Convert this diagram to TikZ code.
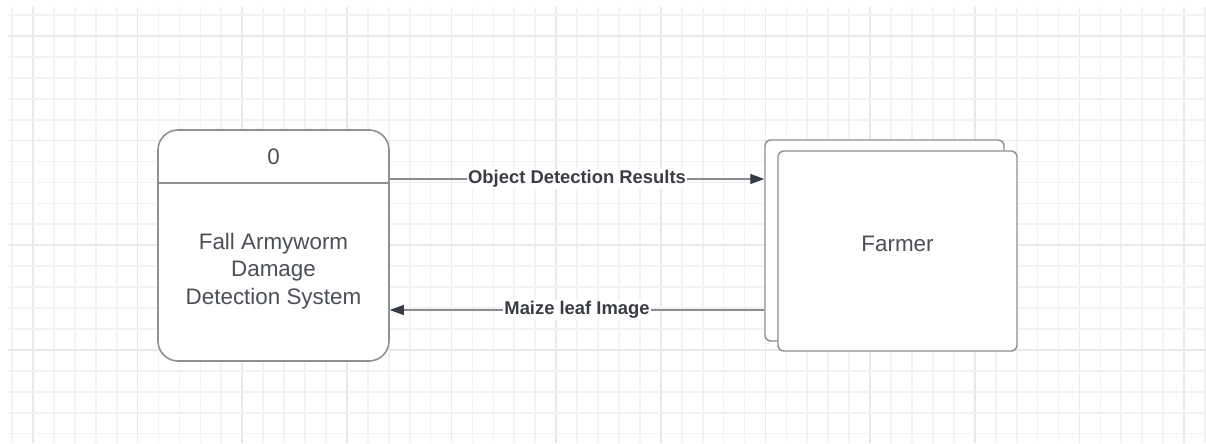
\documentclass[tikz,border=0pt]{standalone}
\usepackage{fontspec}
\setmainfont{Liberation Sans}
\usetikzlibrary{arrows.meta,calc}
\definecolor{gridminor}{HTML}{F2F2F2}
\definecolor{gridmajor}{HTML}{E9E9E9}
\definecolor{edge}{HTML}{8E9096}
\definecolor{flowline}{HTML}{8A8C92}
\definecolor{tip}{HTML}{333A45}
\definecolor{txt}{HTML}{4B4F56}
\definecolor{lbl}{HTML}{3A3D44}
\begin{document}
\begin{tikzpicture}[x=0.75pt,y=-0.75pt,
  process/.style={draw=edge,line width=1.2pt,fill=white,rounded corners=15pt,
    minimum width=173.25pt,minimum height=173.25pt,inner sep=0pt},
  entity/.style={draw=edge,line width=1.1pt,fill=white,rounded corners=4.5pt,
    minimum width=179.25pt,inner sep=0pt},
  maintext/.style={text=txt,font=\fontsize{16.8pt}{20.5pt}\selectfont,align=center},
  flow/.style={draw=flowline,line width=0.9pt,-{Triangle[length=10.5pt,width=7.5pt,fill=tip,color=tip]}},
  flowlabel/.style={fill=white,inner sep=1pt,text=lbl,font=\bfseries\fontsize{13.8pt}{16pt}\selectfont}]
  % canvas and background grid
  \useasboundingbox (0,0) rectangle (1206,443);
  \fill[white] (0,0) rectangle (1206,443);
  \foreach \k in {0,...,57}{
    \pgfmathsetmacro{\gx}{12+20.93*\k}
    \pgfmathtruncatemacro{\m}{mod(\k,5)}
    \ifnum\m=1
      \draw[gridmajor,line width=1.3pt] (\gx,7) -- (\gx,443);
    \else
      \draw[gridminor,line width=1.3pt] (\gx,7) -- (\gx,443);
    \fi}
  \foreach \k in {0,...,20}{
    \pgfmathsetmacro{\gy}{15+20.93*\k}
    \pgfmathtruncatemacro{\m}{mod(\k,5)}
    \ifnum\m=1
      \draw[gridmajor,line width=1.3pt] (8,\gy) -- (1206,\gy);
    \else
      \draw[gridminor,line width=1.3pt] (8,\gy) -- (1206,\gy);
    \fi}

  % process 0
  \node[process] (sys) at (273.5,245.5) {};
  \draw[edge,line width=1.2pt] ($(sys.north west)+(0,54)$) -- ($(sys.north east)+(0,54)$);
  \node[maintext] (sysid) at (273.5,157) {0};
  \node[maintext] (sysname) at (273.5,271) {Fall Armyworm\\Damage\\Detection System};

  % external entity (stacked)
  \node[entity,minimum height=150.75pt] (farmerback) at (884.5,240.5) {};
  \node[entity,minimum height=150pt] (farmer) at (897.5,251) {};
  \node[maintext] (farmername) at (897.5,244) {Farmer};

  % data flows
  \coordinate (outrow) at (0,179);
  \coordinate (inrow) at (0,310);
  \draw[flow] (sys.east |- outrow) -- node[flowlabel] (outlbl) {Object Detection Results} (farmerback.west |- outrow);
  \draw[flow] (farmerback.west |- inrow) -- node[flowlabel] (inlbl) {Maize leaf Image} (sys.east |- inrow);
\end{tikzpicture}
\end{document}
